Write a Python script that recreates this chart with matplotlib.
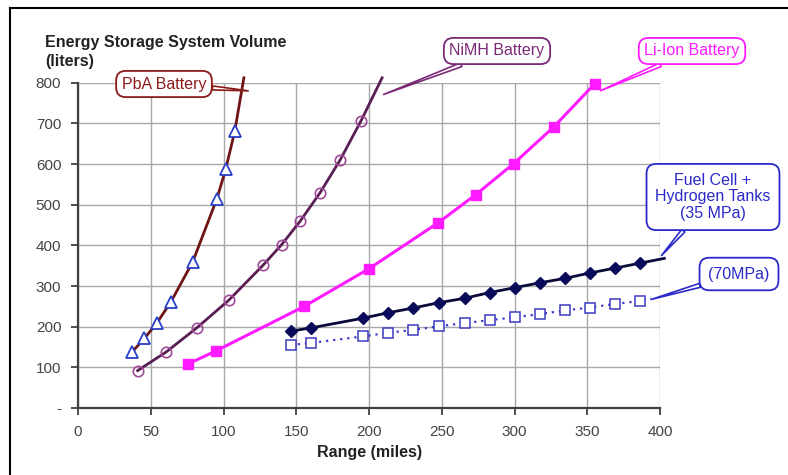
import matplotlib
matplotlib.use("Agg")
import matplotlib.pyplot as plt
from matplotlib.lines import Line2D

plt.rcParams['font.family'] = ['Liberation Sans', 'DejaVu Sans']

# ---- data ----
pba_x = [37, 45.6, 54, 63.7, 78.8, 95.5, 101.5, 107.7]
pba_y = [137, 171, 208, 260, 359, 515, 587, 680]
pba_end = (114, 812)

nimh_x = [41, 60.7, 81.6, 103.6, 127.4, 140, 152.6, 166.3, 180, 194.5]
nimh_y = [92, 138, 197, 265, 352, 402, 459, 529, 609, 706]
nimh_end = (209, 812)

liion_x = [75.4, 94.6, 155.5, 200.2, 247.7, 273.5, 299.4, 326.9, 355.3]
liion_y = [108, 140, 250, 343, 456, 525, 601, 691, 798]

fc35_x = [146.2, 160.1, 196, 212.8, 230.5, 248, 266, 283, 300.3, 317.5, 335, 351.7, 369, 386]
fc35_y = [189, 197, 221, 234, 246, 259, 270, 284, 296, 308, 319, 332, 344, 356]
fc35_end = (403, 368)

fc70_x = [146.2, 160, 195.7, 212.8, 230.5, 248, 266, 283, 300, 317.5, 334.7, 351.9, 369, 386]
fc70_y = [155, 160, 176, 185, 192, 201, 209, 216, 223, 231, 240, 247, 256, 263]
fc70_end = (394, 269)

x_ticks = [0, 50, 100, 150, 200, 250, 300, 350, 400]
y_ticks = [0, 100, 200, 300, 400, 500, 600, 700, 800]
y_ticklabels = ['-', '100', '200', '300', '400', '500', '600', '700', '800']

W, H = 788, 475
fig = plt.figure(figsize=(W / 100, H / 100), dpi=100)
fig.patch.set_facecolor('white')

L, R, T, B = 78, 660, 82.7, 408
ax = fig.add_axes([L / W, (H - B) / H, (R - L) / W, (B - T) / H])
ax.set_xlim(0, 400)
ax.set_ylim(0, 800)
ax.set_xticks(x_ticks)
ax.set_yticks(y_ticks)
ax.set_yticklabels(y_ticklabels)
ax.grid(True, color='#a8a8a8', lw=1.0)
ax.set_axisbelow(True)
for s in ['top', 'right']:
    ax.spines[s].set_visible(False)
for s in ['left', 'bottom']:
    ax.spines[s].set_color('#404040')
    ax.spines[s].set_linewidth(1.6)
ax.tick_params(axis='both', direction='out', length=5, width=1.3, color='#404040',
               labelsize=11, labelcolor='#444444')
ax.tick_params(axis='y', pad=7)
ax.tick_params(axis='x', pad=7)

# PbA
ax.plot(pba_x + [pba_end[0]], pba_y + [pba_end[1]], color='#6e1414', lw=2.0,
        clip_on=False, zorder=3)
ax.plot(pba_x, pba_y, ls='none', marker='^', ms=8, mfc='white', mec='#2a3fc8',
        mew=1.3, zorder=4)
# NiMH
ax.plot(nimh_x + [nimh_end[0]], nimh_y + [nimh_end[1]], color='#5a1e55', lw=2.0,
        clip_on=False, zorder=3)
ax.plot(nimh_x, nimh_y, ls='none', marker='o', ms=7.5, mfc='none', mec='#a04a98',
        mew=1.2, zorder=4)
# Li-Ion
ax.plot(liion_x, liion_y, color='#ff1aff', lw=2.2, marker='s', ms=6.5,
        mfc='#ff1aff', mec='#ff1aff', zorder=3, clip_on=False)
# Fuel cell 35 MPa
ax.plot(fc35_x + [fc35_end[0]], fc35_y + [fc35_end[1]], color='#0a0a3a', lw=2.0,
        clip_on=False, zorder=3)
ax.plot(fc35_x, fc35_y, ls='none', marker='D', ms=6.5, mfc='#0a0a5a', mec='#0a0a5a',
        zorder=4)
# 70 MPa
ax.plot(fc70_x + [fc70_end[0]], fc70_y + [fc70_end[1]], color='#3a3ad0', lw=1.6,
        ls=(0, (1, 2.2)), clip_on=False, zorder=3)
ax.plot(fc70_x, fc70_y, ls='none', marker='s', ms=6.5, mfc='white', mec='#3a3ac0',
        mew=1.1, zorder=4)


def callout(text, cx, cy, tip, color, fs=11.5, pad=0.3, tw=0.25):
    ax.annotate(text, xy=tip, xycoords='data',
                xytext=(cx / W, 1 - cy / H), textcoords='figure fraction',
                ha='center', va='center', fontsize=fs, color=color,
                linespacing=1.15,
                bbox=dict(boxstyle='round,pad=%g,rounding_size=0.6' % pad,
                          fc='white', ec=color, lw=1.3),
                arrowprops=dict(arrowstyle='wedge,tail_width=%g,shrink_factor=0.5' % tw,
                                fc='white', ec=color, lw=1.2,
                                shrinkA=0, shrinkB=0),
                annotation_clip=False, zorder=6)


callout('PbA Battery', 164, 84, (117, 780), '#8b1a1a', pad=0.35)
callout('NiMH Battery', 497, 51, (210, 771), '#7b2a78', pad=0.35)
callout('Li-Ion Battery', 692, 51, (359, 780), '#ff1aff', pad=0.35)
callout('Fuel Cell +\nHydrogen Tanks\n(35 MPa)', 713, 197, (401, 375), '#2a2ac8',
        pad=0.55)
callout('(70MPa)', 739, 274, (394, 267), '#2a2ac8', pad=0.55)

# axis titles
fig.text(45 / W, 1 - 47 / H, 'Energy Storage System Volume', fontsize=11.5,
         fontweight='bold', color='#222222', ha='left', va='baseline')
fig.text(45 / W, 1 - 66 / H, '(liters)', fontsize=11.5, fontweight='bold',
         color='#222222', ha='left', va='baseline')
fig.text(369.5 / W, 1 - 456.5 / H, 'Range (miles)', fontsize=11.5, fontweight='bold',
         color='#222222', ha='center', va='baseline')

# document frame
fig.add_artist(Line2D([10 / W, 1], [1 - 8 / H, 1 - 8 / H], color='black', lw=1.5,
                      transform=fig.transFigure))
fig.add_artist(Line2D([10 / W, 10 / W], [0, 1 - 8 / H], color='black', lw=1.5,
                      transform=fig.transFigure))

fig.savefig('out.png', dpi=100)
